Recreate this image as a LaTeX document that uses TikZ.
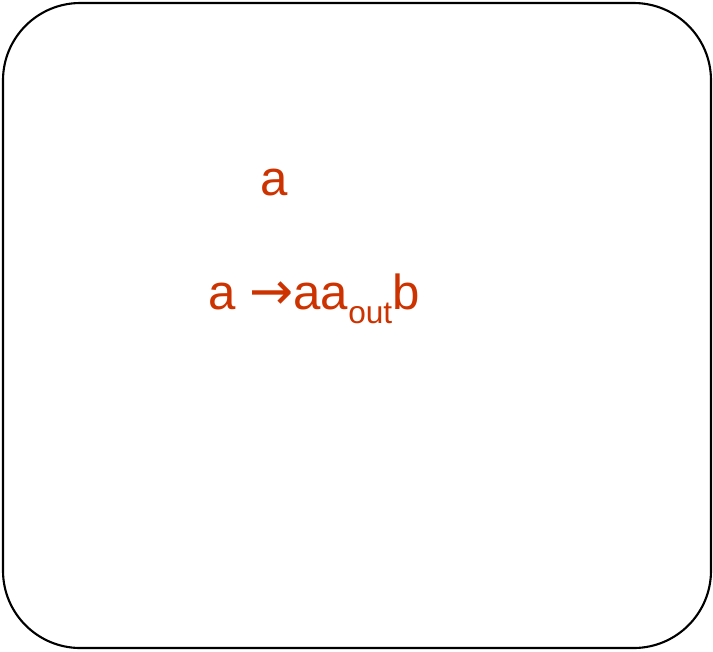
\documentclass[tikz,border=0pt]{standalone}
\usepackage{fontspec}
\setmainfont{Liberation Sans}
\newfontfamily\arrowfont{DejaVu Sans}
\usepackage{xcolor}
\usepackage{tikz}
\usetikzlibrary{positioning}
\definecolor{rust}{HTML}{CC3300}
\tikzset{frame/.style={draw=black,line width=.6pt,rounded corners=22pt},rule/.style={text=rust,font=\fontsize{14}{17}\selectfont,anchor=base,inner sep=0pt}}
\begin{document}
\begin{tikzpicture}[x=1cm,y=1cm]
 \useasboundingbox (0,0) rectangle (7.13,6.51);
 \draw[frame] (.03,.03) rectangle (7.11,6.48);
 \node[rule] (axiom) at (2.74,4.56) {a};
 \node[rule] (prod) at (3.14,3.42) {a {\arrowfont\fontsize{15}{18}\selectfont\char"2192}aa\raisebox{-4pt}{\fontsize{9}{11}\selectfont out}b};
\end{tikzpicture}
\end{document}
